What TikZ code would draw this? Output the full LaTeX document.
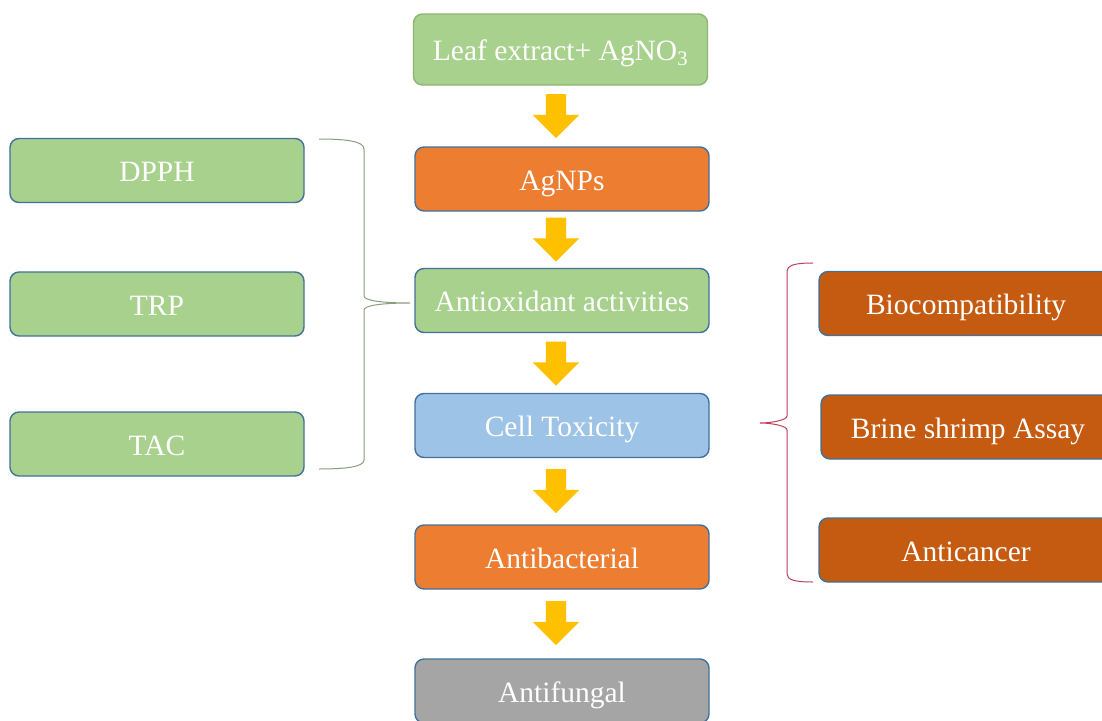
\documentclass[tikz,border=0pt]{standalone}
\usepackage{fontspec}
\setmainfont{Liberation Serif}
\usetikzlibrary{shapes.arrows}
\definecolor{gfill}{HTML}{A9D18E}
\definecolor{ofill}{HTML}{ED7D31}
\definecolor{bfill}{HTML}{9DC3E6}
\definecolor{grfill}{HTML}{A5A5A5}
\definecolor{dofill}{HTML}{C55A11}
\definecolor{bline}{HTML}{41719C}
\definecolor{gline}{HTML}{8FB573}
\definecolor{yarrow}{HTML}{FFC000}
\definecolor{lbr}{HTML}{8A9C7E}
\definecolor{rbr}{HTML}{C0405A}
\tikzset{
  box/.style={rounded corners=9pt, draw=bline, line width=1.4pt, minimum width=294pt, minimum height=64pt, inner sep=0pt, text=white, text height=22pt, text depth=0pt, font=\fontsize{29.5}{32}\selectfont},
  flowarrow/.style={single arrow, fill=yarrow, draw=none, minimum width=46pt, minimum height=44pt, inner sep=10pt, single arrow head extend=13pt, single arrow tip angle=90, rotate=-90},
  bracel/.style={draw=lbr, line width=1pt},
  bracer/.style={draw=rbr, line width=1pt}
}
\begin{document}
\begin{tikzpicture}[x=1pt,y=-1pt]
\useasboundingbox (0,0) rectangle (1102,720);
\clip (0,0) rectangle (1102,720);
\fill[white] (0,0) rectangle (1102,720);
% centre column
\node[box, fill=gfill, draw=gline, minimum height=71pt] (leaf) at (560.5,49.5) {Leaf extract+ AgNO\textsubscript{3}};
\node[box, fill=ofill] (agnp) at (562,179) {AgNPs};
\node[box, fill=gfill] (antiox) at (562,300.5) {Antioxidant activities};
\node[box, fill=bfill] (cell) at (562,425.5) {Cell Toxicity};
\node[box, fill=ofill] (abac) at (562,557) {Antibacterial};
\node[box, fill=grfill] (afun) at (562,691) {Antifungal};
% left column
\node[box, fill=gfill] (dpph) at (157,170.5) {DPPH};
\node[box, fill=gfill] (trp) at (157,304) {TRP};
\node[box, fill=gfill] (tac) at (157,444) {TAC};
% right column
\node[box, fill=dofill] (bio) at (966,303.5) {Biocompatibility};
\node[box, fill=dofill] (brine) at (968,427) {Brine shrimp Assay};
\node[box, fill=dofill] (acan) at (966,550) {Anticancer};
% arrows
\node[flowarrow] (a1) at (556,111) {};
\node[flowarrow] (a2) at (556,234.5) {};
\node[flowarrow] (a3) at (556,358.5) {};
\node[flowarrow] (a4) at (556,486) {};
\node[flowarrow] (a5) at (556,618) {};
% braces
\draw[bracel] (319,139) .. controls (345,139) and (364,141) .. (364,149) -- (364,296)
  .. controls (364,301) and (385,303) .. (410,303)
  .. controls (385,303) and (364,305) .. (364,310) -- (364,460)
  .. controls (364,467) and (345,469) .. (319,469);
\draw[bracer] (813,263) .. controls (795,263) and (787,265) .. (787,272) -- (787,416)
  .. controls (787,420) and (772,423) .. (760,423)
  .. controls (772,423) and (787,426) .. (787,430) -- (787,574)
  .. controls (787,580) and (795,582) .. (813,582);
\end{tikzpicture}
\end{document}
